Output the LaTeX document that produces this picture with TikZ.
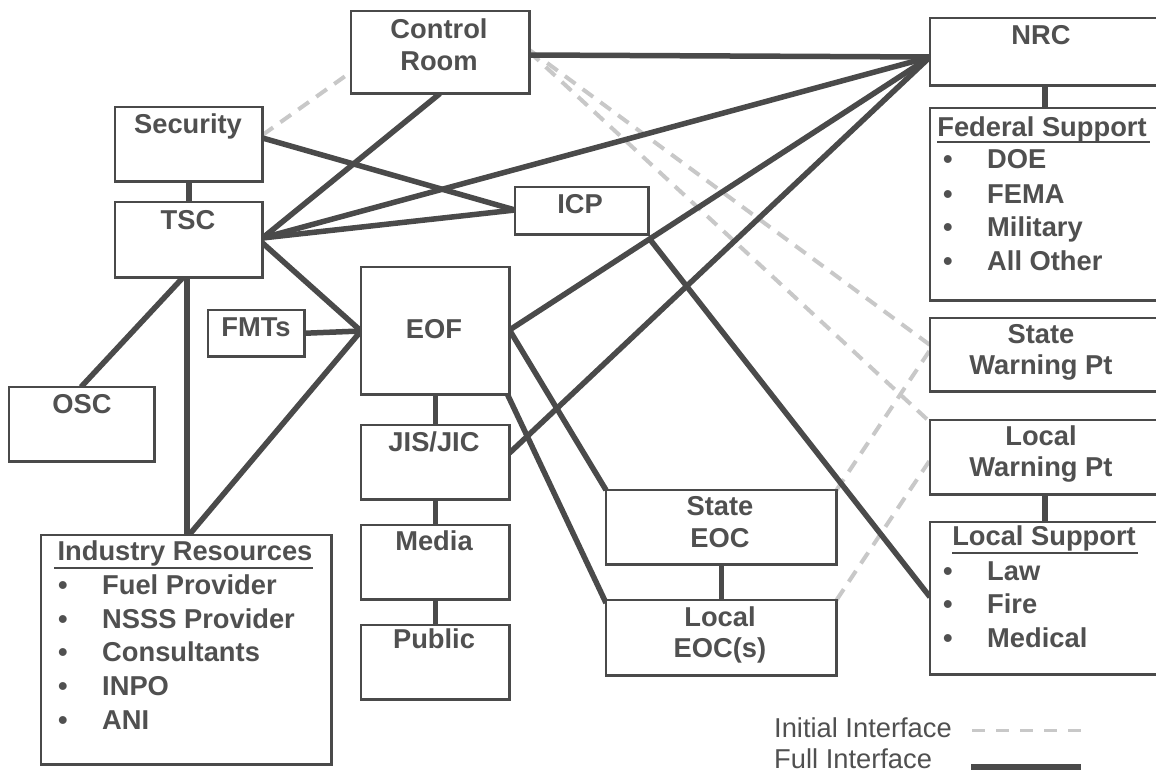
\documentclass[tikz,border=0pt]{standalone}
\usepackage{fontspec}
\setmainfont{Liberation Sans}
\usetikzlibrary{calc}
\definecolor{tx}{HTML}{505050}
\definecolor{ln}{HTML}{4A4A4A}
\definecolor{dl}{HTML}{C8C8C8}
\begin{document}
\begin{tikzpicture}[x=1pt,y=-1pt,
  box/.style={draw=ln, line width=2.5pt, fill=white, inner sep=0pt, anchor=north west},
  lbl/.style={anchor=base, inner sep=0pt, text=tx, font=\fontsize{27.3}{33}\selectfont\bfseries},
  itm/.style={lbl, anchor=base west},
  leg/.style={anchor=base west, inner sep=0pt, text=tx, font=\fontsize{27.3}{33}\selectfont},
  full/.style={draw=ln, line width=5.5pt},
  init/.style={draw=dl, line width=4pt, dash pattern=on 13pt off 9pt},
  uline/.style={draw=ln, line width=2.6pt},
]
\useasboundingbox (0,0) rectangle (1156,773);
\clip (0,0) rectangle (1156,773);
\fill[white] (0,0) rectangle (1156,773);

% ---------- boxes (geometry first, drawn again on top of lines)
\path
 node[box, minimum width=176, minimum height=80] (cr) at (351,11) {}
 node[box, minimum width=145, minimum height=72] (sec) at (115,107) {}
 node[box, minimum width=145, minimum height=73] (tsc) at (115,202) {}
 node[box, minimum width=131, minimum height=45] (icp) at (515,187) {}
 node[box, minimum width=234, minimum height=65] (nrc) at (930,18) {}
 node[box, minimum width=234, minimum height=190] (fed) at (930,108) {}
 node[box, minimum width=234, minimum height=71] (swp) at (930,318) {}
 node[box, minimum width=234, minimum height=72] (lwp) at (930,420) {}
 node[box, minimum width=234, minimum height=150] (lsup) at (930,522) {}
 node[box, minimum width=143, minimum height=72] (osc) at (9,387) {}
 node[box, minimum width=94, minimum height=44] (fmt) at (208,310) {}
 node[box, minimum width=146, minimum height=125] (eof) at (361,267) {}
 node[box, minimum width=146, minimum height=72] (jis) at (361,425) {}
 node[box, minimum width=146, minimum height=72] (media) at (361,525) {}
 node[box, minimum width=146, minimum height=72] (public) at (361,625) {}
 node[box, minimum width=228, minimum height=72] (seoc) at (606,490) {}
 node[box, minimum width=228, minimum height=73] (leoc) at (606,600) {}
 node[box, minimum width=288, minimum height=227] (ind) at (41,535) {};

% ---------- connection points
\coordinate (nrcL) at ($(nrc.north west)+(0,39)$);
\coordinate (tscR) at ($(tsc.north east)+(0,36)$);
\coordinate (eofL) at ($(eof.north west)+(0,64)$);
\coordinate (eofR) at ($(eof.north east)+(0,63)$);
\coordinate (icpL) at ($(icp.north west)+(0,23)$);

% ---------- initial interface (dashed)
\draw[init] ($(sec.north east)+(0,28)$) -- ($(cr.north west)+(0,61)$);
\draw[init] ($(cr.north east)+(0,39)$) -- ($(swp.north west)+(0,27)$);
\draw[init] ($(cr.north east)+(0,41)$) -- ($(lwp.north west)+(0,2)$);
\draw[init] (seoc.north east) -- ($(swp.north west)+(0,32)$);
\draw[init] (leoc.north east) -- ($(lwp.north west)+(0,40)$);

% ---------- full interface (solid)
\draw[full] ($(cr.north east)+(0,44)$) -- (nrcL);
\draw[full] ($(cr.south west)+(89,0)$) -- (tscR);
\draw[full] ($(sec.north east)+(0,31)$) -- (icpL);
\draw[full] (tscR) -- (icpL);
\draw[full] (tscR) -- (nrcL);
\draw[full] ($(tsc.north east)+(0,41)$) -- (eofL);
\draw[full] (sec.south) -- (tsc.north);
\draw[full] ($(tsc.south west)+(68,0)$) -- ($(osc.north west)+(72,0)$);
\draw[full] ($(tsc.south west)+(72,0)$) -- ($(ind.north west)+(146,0)$);
\draw[full] ($(ind.north west)+(148,0)$) -- (eofL);
\draw[full] (fmt.east) -- (eofL);
\draw[full] (eof.south) -- (jis.north);
\draw[full] (jis.south) -- (media.north);
\draw[full] (media.south) -- (public.north);
\draw[full] (eofR) -- (nrcL);
\draw[full] (eofR) -- (seoc.north west);
\draw[full] ($(eof.south east)+(-2,0)$) -- ($(leoc.north west)+(0,3)$);
\draw[full] ($(jis.north east)+(0,28)$) -- (nrcL);
\draw[full] ($(icp.south east)+(0,3)$) -- ($(lsup.north west)+(0,75)$);
\draw[full] ($(nrc.south west)+(115,0)$) -- ($(fed.north west)+(115,0)$);
\draw[full] (seoc.south) -- (leoc.north);
\draw[full] ($(lwp.south west)+(115,0)$) -- ($(lsup.north west)+(115,0)$);

% ---------- redraw boxes on top
\foreach \b in {cr,sec,tsc,icp,nrc,fed,swp,lwp,lsup,osc,fmt,eof,jis,media,public,seoc,leoc,ind}
  \draw[ln, line width=2.5pt, fill=white] (\b.north west) rectangle (\b.south east);

% ---------- labels
\node[lbl] (crt1) at (439,39) {Control};
\node[lbl] (crt2) at (439,71) {Room};
\node[lbl] (sect) at (188,134) {Security};
\node[lbl] (tsct) at (188,229) {TSC};
\node[lbl] (icpt) at (580,213) {ICP};
\node[lbl] (nrct) at (1041,45) {NRC};
\node[lbl] (fedt) at (1042,137) {Federal Support};
\node[lbl] (swpt1) at (1041,343) {State};
\node[lbl] (swpt2) at (1041,374) {Warning Pt};
\node[lbl] (lwpt1) at (1041,445) {Local};
\node[lbl] (lwpt2) at (1041,476) {Warning Pt};
\node[lbl] (lsupt) at (1044,545) {Local Support};
\node[lbl] (osct) at (82,413) {OSC};
\node[lbl] (fmtt) at (256,336) {FMTs};
\node[lbl] (eoft) at (434,338) {EOF};
\node[lbl] (jist) at (434,451) {JIS/JIC};
\node[lbl] (mediat) at (434,550) {Media};
\node[lbl] (publict) at (434,648) {Public};
\node[lbl] (seoct1) at (720,515) {State};
\node[lbl] (seoct2) at (720,547) {EOC};
\node[lbl] (leoct1) at (720,626) {Local};
\node[lbl] (leoct2) at (720,657) {EOC(s)};
\node[lbl] (indt) at (185,560) {Industry Resources};

\draw[uline] ($(fedt.base west)+(0,5)$) -- ($(fedt.base east)+(3,5)$);
\draw[uline] ($(lsupt.base west)+(0,8)$) -- ($(lsupt.base east)+(2,8)$);
\draw[uline] ($(indt.base west)+(-3,8)$) -- ($(indt.base east)+(0,8)$);

% federal list
\foreach \t/\y/\n in {DOE/168/1, FEMA/203/2, Military/236/3, All Other/270/4}{
  \node[lbl] (fb\n) at (948,\y) {•};
  \node[itm] (fi\n) at (987,\y) {\t};
}
% local support list
\foreach \t/\y/\n in {Law/580/1, Fire/613/2, Medical/647/3}{
  \node[lbl] (lb\n) at (948,\y) {•};
  \node[itm] (li\n) at (987,\y) {\t};
}
% industry list
\foreach \t/\y/\n in {Fuel Provider/594/1, NSSS Provider/628/2, Consultants/661/3, INPO/695/4, ANI/729/5}{
  \node[lbl] (ib\n) at (63,\y) {•};
  \node[itm] (ii\n) at (102,\y) {\t};
}

% ---------- legend
\node[leg] (legi) at (774,737) {Initial Interface};
\node[leg] (legf) at (774,768) {Full Interface};
\coordinate (li1) at (972,730);
\coordinate (li2) at (1081,730);
\coordinate (lf1) at (971,767);
\coordinate (lf2) at (1081,767);
\draw[draw=dl, line width=3pt, dash pattern=on 13pt off 11pt] (li1) -- (li2);
\draw[draw=ln, line width=6.5pt] (lf1) -- (lf2);
\end{tikzpicture}
\end{document}
